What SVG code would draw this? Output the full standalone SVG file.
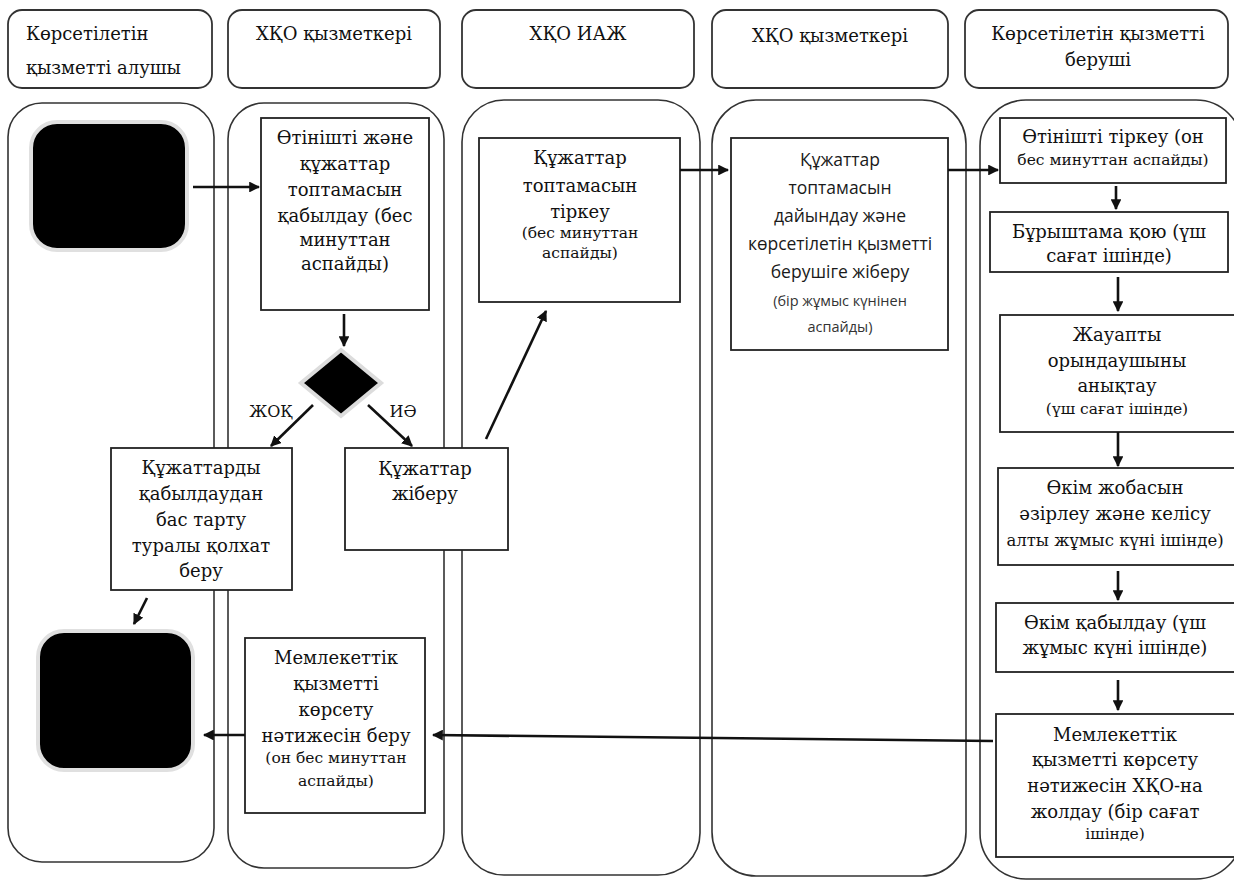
<svg xmlns="http://www.w3.org/2000/svg" width="1234" height="880" viewBox="0 0 1234 880">
  <defs>
    <marker id="arrow" viewBox="0 0 10 10" refX="9" refY="5" markerWidth="4.2" markerHeight="4.2" orient="auto" markerUnits="strokeWidth">
      <path d="M0,0 L10,5 L0,10 Z" fill="#111"/>
    </marker>
  </defs>
  <style>
    .hdr { fill: #fff; stroke: #333; stroke-width: 1.8; }
    .lane { fill: none; stroke: #333; stroke-width: 1.6; }
    .box { fill: #fff; stroke: #222; stroke-width: 1.8; }
    .term { fill: #000; stroke: #e0e0e0; stroke-width: 4; }
    .t { font-family: "DejaVu Serif", "Liberation Serif", serif; font-size: 18px; fill: #111; text-anchor: middle; }
    .tl { text-anchor: start; }
    .ts { font-size: 15.5px; }
    .sans { font-family: "Open Sans", "Noto Sans", sans-serif; font-size: 17.5px; fill: #1a1a1a; text-anchor: middle; }
    .sans-s { font-size: 14.5px; fill: #333; }
    .edge { fill: none; stroke: #111; stroke-width: 2.6; marker-end: url(#arrow); }
  </style>
  <rect width="1234" height="880" fill="#fff"/>

  <!-- lane headers -->
  <g id="header-1">
    <rect class="hdr" x="8" y="10" width="204" height="78" rx="14"/>
    <text class="t tl" x="26" y="40">Көрсетілетін</text>
    <text class="t tl" x="26" y="74">қызметті алушы</text>
  </g>
  <g id="header-2">
    <rect class="hdr" x="228" y="10" width="212" height="78" rx="14"/>
    <text class="t" x="334" y="40">ХҚО қызметкері</text>
  </g>
  <g id="header-3">
    <rect class="hdr" x="462" y="10" width="232" height="78" rx="14"/>
    <text class="t" x="578" y="40">ХҚО ИАЖ</text>
  </g>
  <g id="header-4">
    <rect class="hdr" x="712" y="10" width="236" height="78" rx="14"/>
    <text class="t" x="830" y="42">ХҚО қызметкері</text>
  </g>
  <g id="header-5">
    <rect class="hdr" x="965" y="10" width="263" height="78" rx="14"/>
    <text class="t" x="1098" y="40">Көрсетілетін қызметті</text>
    <text class="t" x="1098" y="66">беруші</text>
  </g>

  <!-- swimlanes -->
  <g id="lanes">
    <rect class="lane" x="8" y="103" width="206" height="759" rx="34"/>
    <rect class="lane" x="228" y="103" width="216" height="765" rx="36"/>
    <rect class="lane" x="462" y="100" width="238" height="775" rx="42"/>
    <rect class="lane" x="712" y="100" width="254" height="776" rx="44"/>
    <rect class="lane" x="980" y="100" width="262" height="779" rx="46"/>
  </g>

  <!-- start / end terminals -->
  <g id="start">
    <rect class="term" x="31" y="122" width="156" height="128" rx="26"/>
  </g>
  <g id="end">
    <rect class="term" x="38" y="631" width="155" height="139" rx="26"/>
  </g>

  <!-- process boxes -->
  <g id="receive">
    <rect class="box" x="261" y="118" width="168" height="192"/>
    <text class="t" x="345" y="144">Өтінішті және</text>
    <text class="t" x="345" y="170">құжаттар</text>
    <text class="t" x="345" y="196">топтамасын</text>
    <text class="t" x="345" y="222">қабылдау (бес</text>
    <text class="t" x="345" y="246">минуттан</text>
    <text class="t" x="345" y="270">аспайды)</text>
  </g>

  <g id="decision">
    <polygon points="341,350 381,383 341,416 301,383" fill="#000" stroke="#dcdcdc" stroke-width="4" stroke-linejoin="miter"/>
  </g>

  <g id="refuse">
    <rect class="box" x="111" y="448" width="181" height="142"/>
    <text class="t" x="201" y="474">Құжаттарды</text>
    <text class="t" x="201" y="500">қабылдаудан</text>
    <text class="t" x="201" y="526">бас тарту</text>
    <text class="t" x="201" y="552">туралы қолхат</text>
    <text class="t" x="201" y="577">беру</text>
  </g>

  <g id="send-docs">
    <rect class="box" x="345" y="448" width="163" height="102"/>
    <text class="t" x="425" y="475">Құжаттар</text>
    <text class="t" x="425" y="500">жіберу</text>
  </g>

  <g id="issue-result">
    <rect class="box" x="245" y="638" width="180" height="175"/>
    <text class="t" x="336" y="664">Мемлекеттік</text>
    <text class="t" x="336" y="690">қызметті</text>
    <text class="t" x="336" y="716">көрсету</text>
    <text class="t" x="336" y="742">нәтижесін беру</text>
    <text class="t ts" x="336" y="763">(он бес минуттан</text>
    <text class="t ts" x="336" y="786">аспайды)</text>
  </g>

  <g id="register-docs">
    <rect class="box" x="479" y="138" width="201" height="164"/>
    <text class="t" x="580" y="164">Құжаттар</text>
    <text class="t" x="580" y="192">топтамасын</text>
    <text class="t" x="580" y="218">тіркеу</text>
    <text class="t ts" x="580" y="238">(бес минуттан</text>
    <text class="t ts" x="580" y="258">аспайды)</text>
  </g>

  <g id="prepare-docs">
    <rect class="box" x="731" y="138" width="217" height="212"/>
    <text class="sans" x="840" y="166">Құжаттар</text>
    <text class="sans" x="840" y="194">топтамасын</text>
    <text class="sans" x="840" y="222">дайындау және</text>
    <text class="sans" x="840" y="250">көрсетілетін қызметті</text>
    <text class="sans" x="840" y="278">берушіге жіберу</text>
    <text class="sans sans-s" x="840" y="306">(бір жұмыс күнінен</text>
    <text class="sans sans-s" x="840" y="332">аспайды)</text>
  </g>

  <g id="register-application">
    <rect class="box" x="1000" y="118" width="226" height="65"/>
    <text class="t" x="1113" y="143">Өтінішті тіркеу (он</text>
    <text class="t ts" x="1113" y="165">бес минуттан аспайды)</text>
  </g>

  <g id="resolution">
    <rect class="box" x="990" y="212" width="238" height="60"/>
    <text class="t" x="1109" y="238">Бұрыштама қою (үш</text>
    <text class="t" x="1109" y="262">сағат ішінде)</text>
  </g>

  <g id="assign-executor">
    <rect class="box" x="1000" y="315" width="240" height="117"/>
    <text class="t" x="1117" y="341">Жауапты</text>
    <text class="t" x="1117" y="367">орындаушыны</text>
    <text class="t" x="1117" y="392">анықтау</text>
    <text class="t ts" x="1117" y="414">(үш сағат ішінде)</text>
  </g>

  <g id="draft-order">
    <rect class="box" x="998" y="468" width="242" height="97"/>
    <text class="t" x="1115" y="494">Өкім жобасын</text>
    <text class="t" x="1115" y="520">әзірлеу және келісу</text>
    <text class="t" x="1115" y="546" style="font-size:16.5px">алты жұмыс күні ішінде)</text>
  </g>

  <g id="adopt-order">
    <rect class="box" x="996" y="603" width="244" height="69"/>
    <text class="t" x="1115" y="629">Өкім қабылдау (үш</text>
    <text class="t" x="1115" y="654">жұмыс күні ішінде)</text>
  </g>

  <g id="send-result">
    <rect class="box" x="996" y="714" width="244" height="143"/>
    <text class="t" x="1115" y="741">Мемлекеттік</text>
    <text class="t" x="1115" y="766">қызметті көрсету</text>
    <text class="t" x="1115" y="792">нәтижесін ХҚО-на</text>
    <text class="t" x="1115" y="818">жолдау (бір сағат</text>
    <text class="t ts" x="1115" y="839">ішінде)</text>
  </g>

  <!-- connectors -->
  <g id="connectors">
    <line class="edge" x1="193" y1="187" x2="259" y2="187"/>
    <line class="edge" x1="344" y1="314" x2="344" y2="346"/>
    <line class="edge" x1="313" y1="405" x2="271" y2="446"/>
    <line class="edge" x1="368" y1="405" x2="412" y2="446"/>
    <line class="edge" x1="147" y1="598" x2="134" y2="624"/>
    <line class="edge" x1="486" y1="439" x2="546" y2="311"/>
    <line class="edge" x1="680" y1="170" x2="728" y2="170"/>
    <line class="edge" x1="948" y1="170" x2="998" y2="170"/>
    <line class="edge" x1="1116" y1="186" x2="1116" y2="209"/>
    <line class="edge" x1="1118" y1="277" x2="1118" y2="311"/>
    <line class="edge" x1="1118" y1="432" x2="1118" y2="466"/>
    <line class="edge" x1="1118" y1="571" x2="1118" y2="600"/>
    <line class="edge" x1="1118" y1="680" x2="1118" y2="710"/>
    <line class="edge" x1="993" y1="741" x2="433" y2="735"/>
    <line class="edge" x1="245" y1="735" x2="204" y2="735"/>
  </g>

  <!-- decision labels -->
  <g id="decision-labels">
    <text class="t" x="271" y="417" style="font-size:16px">ЖОҚ</text>
    <text class="t" x="403" y="417" style="font-size:16px">ИӘ</text>
  </g>
</svg>
